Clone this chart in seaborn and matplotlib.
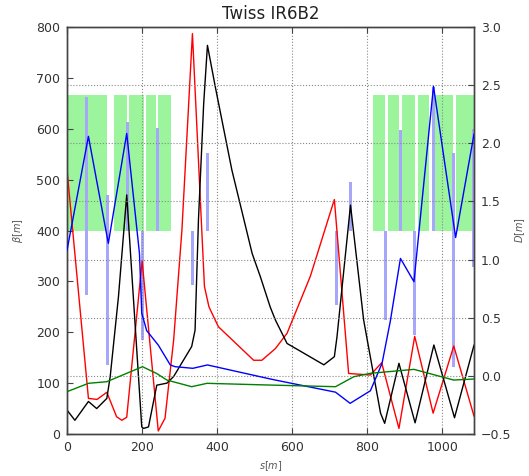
import numpy as np
import matplotlib
matplotlib.use("Agg")
import matplotlib.pyplot as plt
import seaborn as sns

# ---- lattice optics along s ----
# beta functions (left axis, metres)
red_s = [0, 57, 80, 106, 132, 146, 159, 200, 243, 261, 284, 306, 334, 366, 378, 403,
         497, 519, 555, 586, 648, 712, 750, 808, 838, 884, 926, 975, 1030, 1084]
red_v = [519, 70, 68, 82, 34, 27, 33, 340, 6, 31, 185, 401, 787, 290, 250, 211,
         145, 145, 168, 198, 310, 461, 119, 116, 140, 11, 192, 41, 173, 35]

black_s = [0, 21, 57, 79, 106, 115, 137, 159, 199, 204, 217, 239, 266, 284, 332, 341,
           350, 364, 374, 395, 439, 493, 515, 541, 555, 586, 684, 712, 719, 755, 790,
           835, 846, 884, 927, 977, 1032, 1084]
black_v = [47, 27, 64, 50, 70, 113, 270, 470, 14, 11, 14, 96, 100, 113, 172, 204,
           420, 650, 764, 682, 519, 355, 309, 250, 224, 178, 136, 152, 191, 450, 224,
           41, 21, 139, 22, 175, 32, 175]

# dispersion functions (right axis, metres)
blue_s = [0, 57, 110, 159, 193, 199, 212, 243, 275, 288, 335, 374, 532, 555, 715, 754,
          808, 839, 861, 888, 924, 976, 1035, 1084]
blue_v = [1.08, 2.06, 1.14, 2.085, 1.05, 0.54, 0.39, 0.265, 0.094, 0.079, 0.065, 0.094,
          -0.02, -0.036, -0.14, -0.236, -0.128, 0.108, 0.47, 1.01, 0.81, 2.49, 1.19, 2.08]

green_s = [0, 57, 106, 201, 239, 266, 332, 373, 541, 715, 764, 808, 924, 1030, 1084]
green_v = [-0.136, -0.064, -0.05, 0.079, 0.02, -0.036, -0.093, -0.064, -0.079, -0.093,
           -0.007, 0.022, 0.056, -0.036, -0.027]

# ---- element layout ----
bend_start = [0, 125, 165, 211, 243, 814, 855, 892, 934, 971, 1036]
bend_end = [106, 159, 206, 236, 276, 846, 884, 928, 963, 1027, 1088]
bend_low, bend_high = 400, 667

quad_s = [53, 53, 109, 160, 200, 240, 333, 373, 717, 755, 848, 888, 926, 977, 1030, 1083]
quad_low = [273, 400, 135, 400, 185, 400, 293, 400, 253, 400, 224, 400, 194, 400, 132, 328]
quad_high = [400, 662, 470, 613, 400, 601, 400, 552, 400, 495, 400, 597, 400, 682, 552, 600]

# ---- styling ----
sns.set_style("ticks")
plt.rcParams["font.family"] = ["DejaVu Sans"]
plt.rcParams["mathtext.fontset"] = "dejavusans"

fig = plt.figure(figsize=(5.29, 4.76), dpi=100)
ax = fig.add_axes([0.1267, 0.0882, 0.7694, 0.8550])
ax2 = ax.twinx()

# dipoles and quadrupoles
bend_len = np.array(bend_end) - np.array(bend_start)
ax.bar(bend_start, bend_high - bend_low, bottom=bend_low, width=bend_len,
       align="edge", color="#9cf59c", linewidth=0, zorder=1)
ax.bar(quad_s, np.array(quad_high) - np.array(quad_low), bottom=quad_low, width=8,
       color="#a6a6fa", linewidth=0, zorder=1.5)

# optics curves
sns.lineplot(x=red_s, y=red_v, ax=ax, color="red", lw=1.0, sort=False, estimator=None, zorder=3)
sns.lineplot(x=black_s, y=black_v, ax=ax, color="black", lw=1.0, sort=False, estimator=None, zorder=3)
sns.lineplot(x=blue_s, y=blue_v, ax=ax2, color="blue", lw=1.0, sort=False, estimator=None, zorder=3)
sns.lineplot(x=green_s, y=green_v, ax=ax2, color="green", lw=1.0, sort=False, estimator=None, zorder=3)

ax.set_xlim(0, 1084)
ax.set_ylim(0, 800)
ax2.set_ylim(-0.5, 3.0)
ax.set_xticks(range(0, 1001, 200))
ax.set_yticks(range(0, 801, 100))
ax2.set_yticks(np.arange(-0.5, 3.01, 0.5))

grid_kw = dict(color="#888888", linestyle=":", linewidth=0.8)
ax.set_axisbelow(False)
ax.grid(axis="x", **grid_kw)
ax.grid(axis="y", visible=False)
ax2.grid(axis="y", **grid_kw)

for a in (ax, ax2):
    a.tick_params(direction="in", length=4, labelsize=9, labelcolor="#333333", color="#444444")
    for sp in a.spines.values():
        sp.set_color("#444444")
        sp.set_linewidth(1.0)
ax.tick_params(axis="x", top=True, pad=5)
ax.tick_params(axis="y", pad=5)
ax2.tick_params(axis="y", pad=5)

ax.set_title("Twiss IR6B2", fontsize=12, pad=6, color="#222222")
ax.set_xlabel(r"$s[m]$", fontsize=7, color="#555555")
ax.set_ylabel(r"$\beta[m]$", fontsize=7, color="#555555", labelpad=8)
ax2.set_ylabel(r"$D[m]$", fontsize=7, color="#555555", labelpad=1)

fig.savefig("out.png", dpi=100)
